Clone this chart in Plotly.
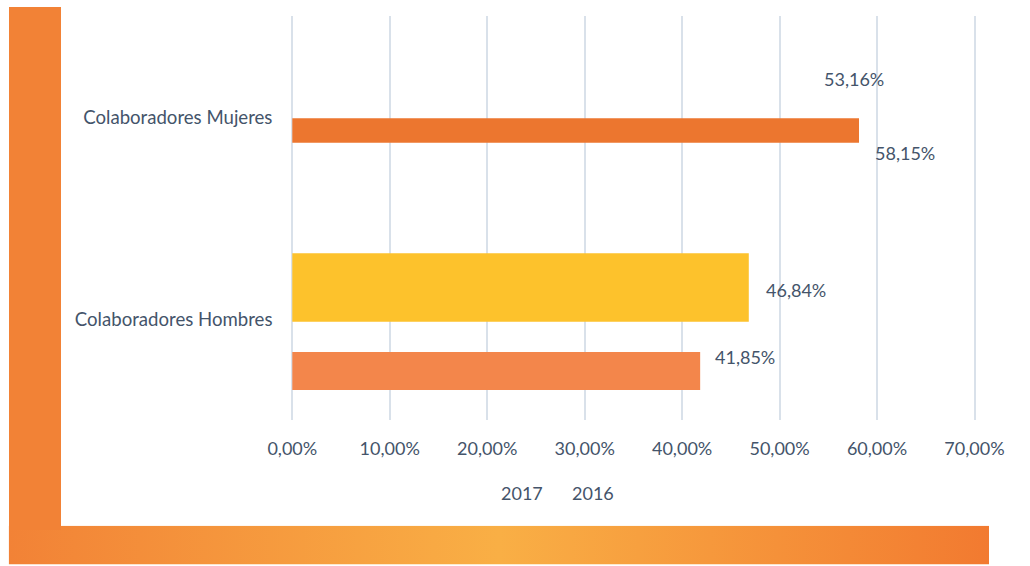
import base64
import plotly.graph_objects as go

# ---- data -------------------------------------------------------------
categories = ["Colaboradores Hombres", "Colaboradores Mujeres"]
series_names = ["2017", "2016"]
values_2017 = [46.84, 53.16]
values_2016 = [41.85, 58.15]
x_ticks = [0, 10, 20, 30, 40, 50, 60, 70]

# ---- styling ----------------------------------------------------------
W, H = 1030, 566
TEXT = "#44546A"
GRID = "#D9E1EA"
FONT = "Lato"

colors_2017 = ["#FDC22C", "rgba(255,255,255,0)"]
colors_2016 = ["#F3864B", "#EC762F"]

# bar placement inside each category band (offset / width in category units)
offset_2017 = [-0.013, 0.12]
width_2017 = [0.338, 0.14]
offset_2016 = [-0.351, -0.127]
width_2016 = [0.188, 0.121]

# value-label nudges (pixels) per category, per series
shift_2017 = [(15, 29), (12, 38)]
shift_2016 = [(13, -38), (14, -36)]

# plot area in pixels: 0 % sits at PX_L, 70 % at PX_R
PX_L, PX_R, PX_T, PX_B = 292.3, 974.5, 16, 420
PAD = 0.6  # range padding so the end gridlines are drawn


def fx(px):
    return px / W


def fy(py):
    return 1 - py / H


def pct(v):
    return f"{v:.2f}".replace(".", ",") + "%"


x_min, x_max = x_ticks[0], x_ticks[-1]
px_per_unit = (PX_R - PX_L) / (x_max - x_min)
dom_l = PX_L - PAD * px_per_unit
dom_r = PX_R + PAD * px_per_unit

fig = go.Figure()

fig.add_trace(go.Bar(
    name=series_names[0], y=categories, x=values_2017, orientation="h",
    offset=offset_2017, width=width_2017,
    marker=dict(color=colors_2017, line=dict(width=0)),
    hoverinfo="x+y",
))
fig.add_trace(go.Bar(
    name=series_names[1], y=categories, x=values_2016, orientation="h",
    offset=offset_2016, width=width_2016,
    marker=dict(color=colors_2016, line=dict(width=0)),
    hoverinfo="x+y",
))

# value labels
annotations = []
for vals, shifts in ((values_2017, shift_2017), (values_2016, shift_2016)):
    for cat, v, (dx, dy) in zip(categories, vals, shifts):
        annotations.append(dict(
            x=v, y=cat, xref="x", yref="y",
            text=pct(v),
            showarrow=False, xanchor="left", yanchor="middle",
            xshift=dx, yshift=dy,
            font=dict(family=FONT, size=18, color=TEXT),
        ))

# legend entries (text only)
for name, cx in zip(series_names, (521.7, 592.7)):
    annotations.append(dict(
        x=fx(cx), y=fy(492.7), xref="paper", yref="paper",
        text=name, showarrow=False, xanchor="center", yanchor="middle",
        font=dict(family=FONT, size=18, color=TEXT),
    ))

# orange L-shaped frame: gradient strip along the bottom, solid bar on the left
svg = (
    '<svg xmlns="http://www.w3.org/2000/svg" width="980" height="39" '
    'preserveAspectRatio="none" viewBox="0 0 980 39">'
    '<defs><linearGradient id="g" x1="0" y1="0" x2="1" y2="0">'
    '<stop offset="0" stop-color="#F28236"/>'
    '<stop offset="0.5" stop-color="#F9AF45"/>'
    '<stop offset="1" stop-color="#F27A30"/>'
    '</linearGradient></defs>'
    '<rect width="980" height="39" fill="url(#g)"/></svg>'
)
src = "data:image/svg+xml;base64," + base64.b64encode(svg.encode()).decode()

fig.update_layout(
    images=[dict(
        source=src, xref="paper", yref="paper",
        x=fx(8.7), y=fy(525.7), sizex=fx(989) - fx(8.7),
        sizey=fy(525.7) - fy(564.5), xanchor="left", yanchor="top",
        sizing="stretch", layer="below",
    )],
    shapes=[dict(
        type="rect", xref="paper", yref="paper",
        x0=fx(9), x1=fx(61), y0=fy(530), y1=fy(7),
        fillcolor="#F28236", line=dict(width=0), layer="below",
    )],
)

fig.update_layout(
    template="none",
    width=W, height=H,
    margin=dict(l=0, r=0, t=0, b=0),
    paper_bgcolor="white", plot_bgcolor="white",
    showlegend=False,
    barmode="group",
    font=dict(family=FONT, size=18, color=TEXT),
    annotations=annotations,
    xaxis=dict(
        domain=[fx(dom_l), fx(dom_r)],
        range=[x_min - PAD, x_max + PAD],
        tickmode="array", tickvals=x_ticks, ticktext=[pct(t) for t in x_ticks],
        showgrid=True, gridcolor=GRID, gridwidth=2,
        zeroline=False, showline=False, ticks="",
        ticklabelstandoff=16, automargin=False,
        tickfont=dict(family=FONT, size=18, color=TEXT),
        fixedrange=True,
    ),
    yaxis=dict(
        domain=[fy(PX_B), fy(PX_T)],
        type="category", categoryorder="array", categoryarray=categories,
        range=[-0.5, 1.5],
        showgrid=False, zeroline=False, showline=False, ticks="",
        ticklabelstandoff=13, automargin=False,
        tickfont=dict(family=FONT, size=18.6, color=TEXT),
        fixedrange=True,
    ),
)

fig.write_html("out.html")
